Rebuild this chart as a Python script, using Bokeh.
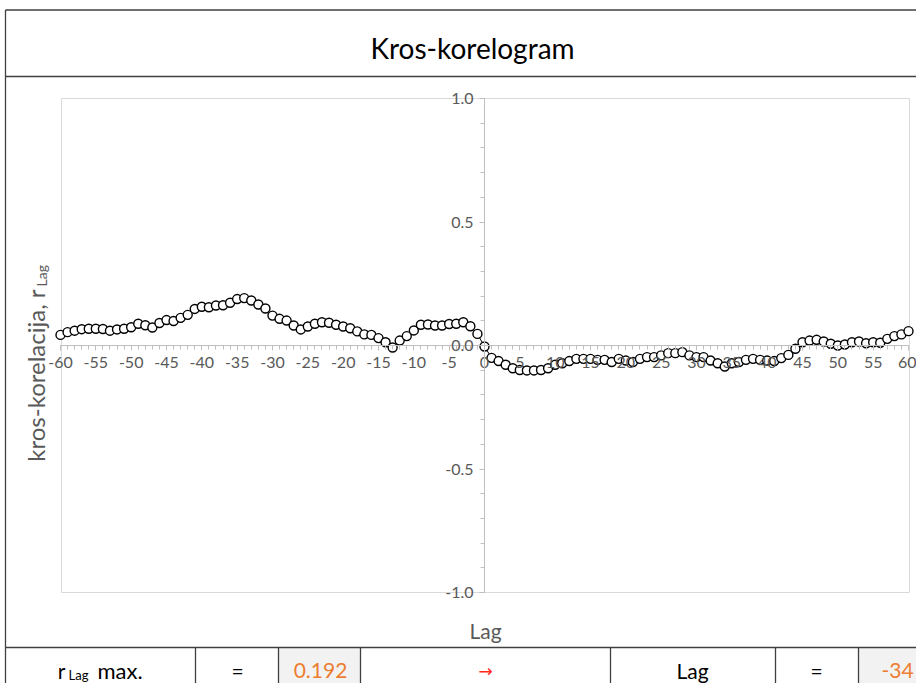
import math
from bokeh.plotting import figure
from bokeh.models import Range1d, LinearAxis, FixedTicker, PrintfTickFormatter
from bokeh.core.properties import value
from bokeh.embed import file_html
from bokeh.resources import INLINE

# ---------------- data ----------------
lags = list(range(-60, 61))
r_lag = [
    0.043, 0.054, 0.060, 0.066, 0.068, 0.068, 0.067, 0.060, 0.065, 0.068,   # -60..-51
    0.074, 0.088, 0.082, 0.073, 0.091, 0.103, 0.099, 0.112, 0.124, 0.148,   # -50..-41
    0.157, 0.155, 0.162, 0.163, 0.173, 0.188, 0.192, 0.182, 0.166, 0.150,   # -40..-31
    0.121, 0.108, 0.101, 0.081, 0.065, 0.077, 0.088, 0.094, 0.092, 0.084,   # -30..-21
    0.077, 0.070, 0.057, 0.045, 0.043, 0.030, 0.013, -0.008, 0.020, 0.038,  # -20..-11
    0.061, 0.084, 0.085, 0.081, 0.081, 0.087, 0.088, 0.094, 0.078, 0.047,   # -10..-1
    -0.004,                                                                  # 0
    -0.050, -0.063, -0.078, -0.092, -0.099, -0.101, -0.101, -0.099, -0.092, -0.078,  # 1..10
    -0.072, -0.063, -0.054, -0.054, -0.054, -0.058, -0.058, -0.067, -0.054, -0.061,  # 11..20
    -0.067, -0.054, -0.047, -0.047, -0.040, -0.031, -0.031, -0.027, -0.040, -0.047,  # 21..30
    -0.047, -0.061, -0.072, -0.085, -0.072, -0.067, -0.058, -0.054, -0.058, -0.061,  # 31..40
    -0.063, -0.051, -0.038, -0.013, 0.013, 0.020, 0.023, 0.016, 0.007, 0.000,       # 41..50
    0.004, 0.013, 0.016, 0.009, 0.013, 0.011, 0.027, 0.038, 0.045, 0.058,           # 51..60
]
x_ticks = list(range(-60, 61, 5))
x_minor = list(range(-60, 61, 1))
y_ticks = [-1.0, -0.5, 0.0, 0.5, 1.0]
y_minor = [round(-1.0 + 0.1 * i, 1) for i in range(21)]
title_text = "Kros-korelogram"
x_title = "Lag"
y_title_main = "kros-korelacija, r"
y_title_sub = "Lag"
r_max_text = "0.192"
lag_max_text = "-34"

# ---------------- layout helpers (pixels -> data) ----------------
W, H = 916, 683
SX = 848.0 / 120.0
SY = 247.0
def X(px):
    return (px - 484.0) / SX
def Y(py):
    return (345.0 - py) / SY

FONT = value("Lato")
p = figure(width=W, height=H, output_backend="svg", toolbar_location=None,
           x_range=Range1d(X(0), X(W)), y_range=Range1d(Y(H), Y(0)),
           x_axis_type=None, y_axis_type=None, min_border=0)
p.outline_line_color = None
p.background_fill_color = "white"
p.border_fill_color = "white"
p.grid.visible = False

# table background cells
p.quad(left=[X(278), X(858)], right=[X(360), X(924)], top=[Y(647), Y(647)],
       bottom=[Y(692), Y(692)], fill_color="#f2f2f2", line_color=None)

# plot area border
p.quad(left=[X(61)], right=[X(909)], top=[Y(98)], bottom=[Y(592)],
       fill_color=None, line_color="#d9d9d9", line_width=1)

# frame lines
bx0 = [5, 922, 5, 5, 5, 195, 278, 360, 610, 775, 858]
by0 = [9.5, 9.5, 9.5, 76, 647, 647, 647, 647, 647, 647, 647]
bx1 = [5, 922, 922, 922, 922, 195, 278, 360, 610, 775, 858]
by1 = [692, 692, 9.5, 76, 647, 692, 692, 692, 692, 692, 692]
p.segment(x0=[X(v) for v in bx0], y0=[Y(v) for v in by0],
          x1=[X(v) for v in bx1], y1=[Y(v) for v in by1],
          line_color="#404040", line_width=1.3)

# axes crossing at 0
xaxis = LinearAxis(fixed_location=0, bounds=(-60, 60),
                   ticker=FixedTicker(ticks=x_ticks, minor_ticks=x_minor),
                   formatter=PrintfTickFormatter(format="%d"))
yaxis = LinearAxis(fixed_location=0, bounds=(-1, 1),
                   ticker=FixedTicker(ticks=y_ticks, minor_ticks=y_minor),
                   formatter=PrintfTickFormatter(format="%.1f"))
for ax in (xaxis, yaxis):
    ax.axis_line_color = "#bfbfbf"
    ax.major_tick_line_color = "#bfbfbf"
    ax.minor_tick_line_color = "#bfbfbf"
    ax.major_tick_in = 0
    ax.major_tick_out = 5
    ax.minor_tick_in = 0
    ax.minor_tick_out = 4
    ax.major_label_text_font = "Lato"
    ax.major_label_text_font_size = "16px"
    ax.major_label_text_color = "#595959"
    ax.major_label_standoff = 6
p.add_layout(xaxis, "below")
p.add_layout(yaxis, "left")

# data
p.line(lags, r_lag, line_color="black", line_width=1)
p.scatter(lags, r_lag, size=9, fill_color="white", line_color="black", line_width=1.4)

# texts
p.text(x=[X(472)], y=[Y(47)], text=[title_text], text_font=FONT, text_font_size="28px",
       text_color="#000000", text_align="center", text_baseline="middle")
p.text(x=[X(485)], y=[Y(630)], text=[x_title], text_font=FONT, text_font_size="21px",
       text_color="#595959", text_align="center", text_baseline="middle")
p.text(x=[X(35)], y=[Y(289)], text=[y_title_main], text_font=FONT, text_font_size="24px",
       text_color="#595959", text_align="right", text_baseline="middle", angle=math.pi / 2)
p.text(x=[X(41)], y=[Y(286)], text=[y_title_sub], text_font=FONT, text_font_size="14px",
       text_color="#595959", text_align="left", text_baseline="middle", angle=math.pi / 2)

# table row
p.text(x=[X(65)], y=[Y(670)], text=["r"], text_font=FONT, text_font_size="21px",
       text_color="#000000", text_align="right", text_baseline="middle")
p.text(x=[X(68)], y=[Y(674)], text=["Lag"], text_font=FONT, text_font_size="13px",
       text_color="#000000", text_align="left", text_baseline="middle")
p.text(x=[X(97)], y=[Y(670)], text=["max."], text_font=FONT, text_font_size="22px",
       text_color="#000000", text_align="left", text_baseline="middle")
p.text(x=[X(237), X(816), X(692)], y=[Y(670)] * 3, text=["=", "=", "Lag"], text_font=FONT,
       text_font_size="21px", text_color="#000000", text_align="center", text_baseline="middle")
p.text(x=[X(320), X(897)], y=[Y(670)] * 2, text=[r_max_text, lag_max_text], text_font=FONT,
       text_font_size="21px", text_color="#ed7d31", text_align="center", text_baseline="middle")
p.text(x=[X(485)], y=[Y(670)], text=["\u2192"], text_font=value("DejaVu Sans"),
       text_font_size="17px", text_color="#ff2a1a", text_align="center", text_baseline="middle")

open("out.html", "w").write(file_html(p, INLINE))
